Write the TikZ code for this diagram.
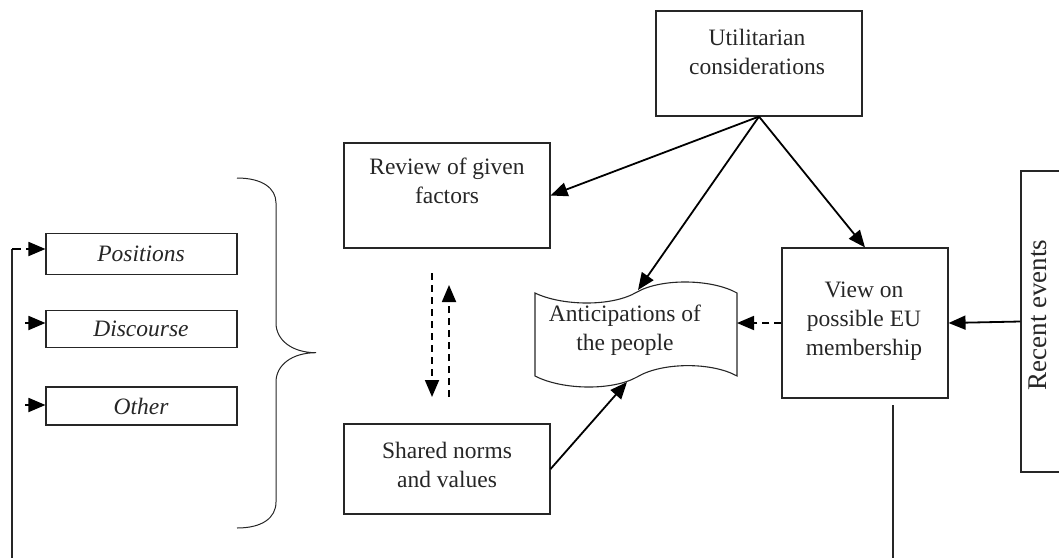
\documentclass[tikz,border=0pt]{standalone}
\usepackage{fontspec}
\setmainfont{Liberation Serif}
\usetikzlibrary{arrows.meta,calc}
\begin{document}
\begin{tikzpicture}[x=1pt,y=-1pt,
  box/.style={draw=black!85,line width=1.1pt,inner sep=0pt,rectangle},
  txt/.style={text=black!85,align=center,inner sep=0pt,font=\fontsize{23.5}{29}\selectfont},
  itxt/.style={txt,font=\fontsize{23.5}{29}\selectfont\itshape},
  arr/.style={line width=1.8pt,draw=black,-{Triangle[length=17pt,width=14pt]}},
  darr/.style={arr,dash pattern=on 7pt off 5pt},
  thin/.style={line width=1.1pt,draw=black!85}]
\useasboundingbox (0,0) rectangle (1059,557);
% boxes
\node[box,minimum width=206pt,minimum height=105pt] (util) at (759,63.5) {};
\node[txt] (utilt) at (757,52) {Utilitarian\\considerations};
\node[box,minimum width=206pt,minimum height=105pt] (review) at (447,195.5) {};
\node[txt] (reviewt) at (447,180.5) {Review of given\\factors};
\node[box,minimum width=206pt,minimum height=90pt] (shared) at (447,469) {};
\node[txt] (sharedt) at (447,464.5) {Shared norms\\and values};
\node[box,minimum width=166pt,minimum height=150pt] (view) at (865,323) {};
\node[txt] (viewt) at (864,321.5) {View on\\possible EU\\membership};
\node[box,minimum width=191pt,minimum height=41pt] (pos) at (141.5,254) {};
\node[itxt] (post) at (141,254) {Positions};
\node[box,minimum width=191pt,minimum height=37pt] (disc) at (141.5,329) {};
\node[itxt] (disct) at (141,329) {Discourse};
\node[box,minimum width=191pt,minimum height=38pt] (oth) at (141.5,406) {};
\node[itxt] (otht) at (141,406) {Other};
\node[box,minimum width=54pt,minimum height=301pt] (recent) at (1048,321.5) {};
\node[txt,rotate=90,font=\fontsize{27}{30}\selectfont] (recentt) at (1038,315) {Recent events};
% wave shape
\node[inner sep=0pt,minimum width=202pt,minimum height=103pt] (antic) at (636,335) {};
\draw[thin] (535,293) .. controls (562,306) and (612,307) .. (637,292)
  .. controls (662,278) and (712,279) .. (737,293) -- (737,376)
  .. controls (712,362) and (662,362) .. (637,377)
  .. controls (612,391) and (562,390) .. (535,376) -- cycle;
\node[txt] (antict) at (625,330) {Anticipations of\\the people};
\coordinate (antTop) at (638,290);
\coordinate (antBot) at (627,382);
\coordinate (antR) at (737,322);
% brace
\draw[thin,line width=1pt] (237,178) .. controls (262,178) and (276,188) .. (276,203) -- (276,323)
  .. controls (276,340) and (292,352.7) .. (316,352.7)
  .. controls (292,352.7) and (276,365) .. (276,382) -- (276,502)
  .. controls (276,518) and (262,528) .. (237,528);
% arrows from utilitarian
\draw[arr] (util.south) -- (review.east);
\draw[arr] (util.south) -- (antTop);
\draw[arr] (util.south) -- (view.north);
\draw[arr] (shared.east) -- (antBot);
\draw[arr] (recent.west) -- (view.east);
\draw[darr] (view.west) -- (view.west -| antR);
% dashed vertical pair
\coordinate (d1s) at (432,273);
\coordinate (d1e) at (432,397);
\coordinate (d2s) at (449,397);
\coordinate (d2e) at (449,285);
\draw[darr] (d1s) -- (d1e);
\draw[darr] (d2s) -- (d2e);
% feedback line
\coordinate (fbBot) at (12,560);
\coordinate (fbTop) at (12,249);
\draw[thin] (fbBot) -- (fbTop);
\draw[arr,dash pattern=on 9pt off 5pt on 40pt] (fbTop) -- (fbTop -| pos.west);
\coordinate (dS) at (25,323);
\coordinate (oS) at (25,405);
\draw[arr] (dS) -- (dS -| disc.west);
\draw[arr] (oS) -- (oS -| oth.west);
% line below view
\coordinate (vlTop) at (893,405);
\coordinate (vlBot) at (893,560);
\draw[thin] (vlTop) -- (vlBot);
\end{tikzpicture}
\end{document}
